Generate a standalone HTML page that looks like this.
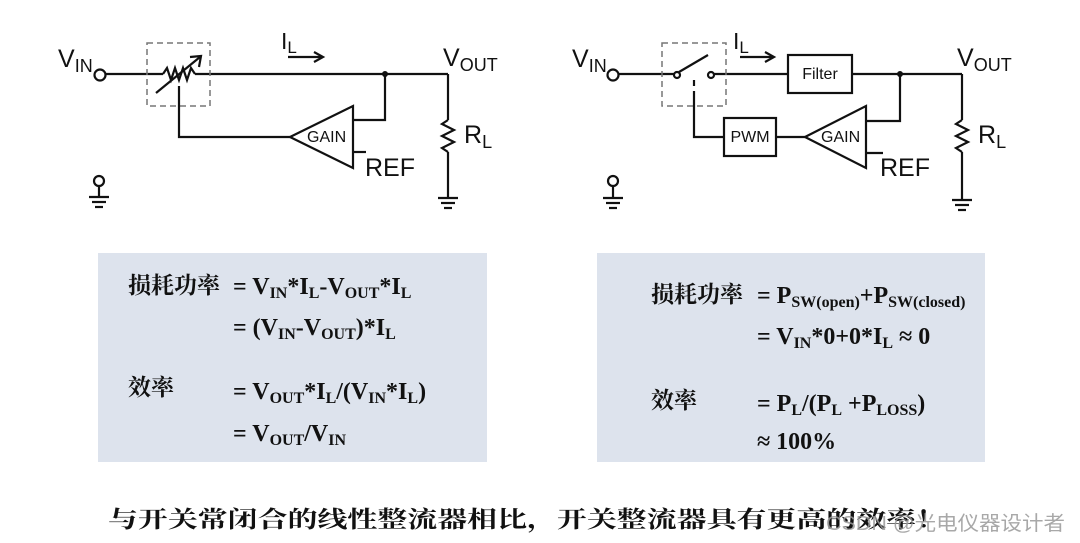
<!DOCTYPE html>
<html><head><meta charset="utf-8"><style>
html,body{margin:0;padding:0;background:#fff;width:1080px;height:543px;overflow:hidden}
svg{display:block}
.s{font-family:"Liberation Sans",sans-serif;fill:#111}
.m{font-family:"Liberation Serif","Noto Serif CJK SC",serif;font-weight:bold;fill:#111;font-size:24px}
.c{font-family:"Liberation Serif","Noto Serif CJK SC",serif;fill:#111;font-size:23px;font-weight:bold}
</style></head><body>
<svg width="1080" height="543" viewBox="0 0 1080 543" xmlns="http://www.w3.org/2000/svg">
<g stroke="#111" stroke-width="2.2" fill="none">
<circle cx="100" cy="75" r="5.5" fill="#fff"/>
<line x1="106" y1="74" x2="163" y2="74"/>
<polyline points="163,74 167,68 171,80 175,68 179,80 183,68 187,80 191,68 195,74"/>
<line x1="195" y1="74" x2="448" y2="74"/>
<line x1="156" y1="93" x2="200" y2="57"/>
<polyline points="190,57 201,56 199,67"/>
<rect x="147" y="43" width="63" height="63" stroke="#777" stroke-width="1.5" stroke-dasharray="6,4"/>
<polyline points="179,86 179,137 290,137"/>
<polygon points="290,137 353,106 353,168"/>
<polyline points="353,120 385,120 385,74"/>
<line x1="353" y1="152" x2="366" y2="152"/>
<line x1="288" y1="57" x2="322" y2="57"/>
<polyline points="314,52 323,57 314,62"/>
<line x1="448" y1="74" x2="448" y2="120"/>
<polyline points="448,120 442,124 454,130 442,136 454,142 442,148 448,152"/>
<line x1="448" y1="152" x2="448" y2="198"/>
<line x1="438" y1="198" x2="458" y2="198"/><line x1="441" y1="203" x2="455" y2="203"/><line x1="444" y1="208" x2="452" y2="208"/>
<circle cx="99" cy="181" r="5" fill="#fff"/>
<line x1="99" y1="186" x2="99" y2="197"/>
<line x1="89" y1="197" x2="109" y2="197"/><line x1="92" y1="202" x2="106" y2="202"/><line x1="95" y1="207" x2="103" y2="207"/>
<circle cx="613" cy="75" r="5.5" fill="#fff"/>
<line x1="619" y1="74" x2="674" y2="74"/>
<circle cx="677" cy="75" r="3" fill="#fff"/>
<line x1="679" y1="72" x2="708" y2="55"/>
<circle cx="711" cy="75" r="3" fill="#fff"/>
<line x1="714" y1="74" x2="788" y2="74"/>
<rect x="788" y="55" width="64" height="38" fill="#fff"/>
<line x1="852" y1="74" x2="962" y2="74"/>
<line x1="694" y1="80" x2="694" y2="86" />
<rect x="662" y="43" width="64" height="63" stroke="#777" stroke-width="1.5" stroke-dasharray="6,4"/>
<polyline points="694,91 694,137 724,137"/>
<rect x="724" y="118" width="52" height="38" fill="#fff"/>
<line x1="776" y1="137" x2="805" y2="137"/>
<polygon points="805,137 866,106 866,168"/>
<polyline points="866,121 900,121 900,74"/>
<line x1="866" y1="153" x2="883" y2="153"/>
<line x1="740" y1="57" x2="773" y2="57"/>
<polyline points="765,52 774,57 765,62"/>
<line x1="962" y1="74" x2="962" y2="120"/>
<polyline points="962,120 956,124 968,130 956,136 968,142 956,148 962,152"/>
<line x1="962" y1="152" x2="962" y2="200"/>
<line x1="952" y1="200" x2="972" y2="200"/><line x1="955" y1="205" x2="969" y2="205"/><line x1="958" y1="210" x2="966" y2="210"/>
<circle cx="613" cy="181" r="5" fill="#fff"/>
<line x1="613" y1="186" x2="613" y2="198"/>
<line x1="603" y1="198" x2="623" y2="198"/><line x1="606" y1="203" x2="620" y2="203"/><line x1="609" y1="208" x2="617" y2="208"/>
</g>
<circle cx="385" cy="74" r="3" fill="#111"/>
<circle cx="900" cy="74" r="3" fill="#111"/>
<text class="s" x="58" y="67" font-size="25">V<tspan font-size="18" dy="5">IN</tspan></text>
<text class="s" x="281" y="49" font-size="23">I<tspan font-size="17" dy="4">L</tspan></text>
<text class="s" x="443" y="66" font-size="25">V<tspan font-size="18" dy="5">OUT</tspan></text>
<text class="s" x="464" y="143" font-size="25">R<tspan font-size="18" dy="5">L</tspan></text>
<text class="s" x="307" y="142" font-size="16">GAIN</text>
<text class="s" x="365" y="176" font-size="25">REF</text>
<text class="s" x="572" y="67" font-size="25">V<tspan font-size="18" dy="5">IN</tspan></text>
<text class="s" x="733" y="49" font-size="23">I<tspan font-size="17" dy="4">L</tspan></text>
<text class="s" x="957" y="66" font-size="25">V<tspan font-size="18" dy="5">OUT</tspan></text>
<text class="s" x="978" y="143" font-size="25">R<tspan font-size="18" dy="5">L</tspan></text>
<text class="s" x="820" y="79" font-size="16" text-anchor="middle">Filter</text>
<text class="s" x="750" y="142" font-size="16" text-anchor="middle">PWM</text>
<text class="s" x="821" y="142" font-size="16">GAIN</text>
<text class="s" x="880" y="176" font-size="25">REF</text>
<rect x="98" y="253" width="389" height="209" fill="#dde3ed"/>
<rect x="597" y="253" width="388" height="209" fill="#dde3ed"/>
<text class="c" x="128" y="293">损耗功率</text>
<text class="m" x="233" y="294">=  V<tspan font-size="16" dy="4">IN</tspan><tspan dy="-4">*I</tspan><tspan font-size="16" dy="4">L</tspan><tspan dy="-4">-V</tspan><tspan font-size="16" dy="4">OUT</tspan><tspan dy="-4">*I</tspan><tspan font-size="16" dy="4">L</tspan></text>
<text class="m" x="233" y="335">= (V<tspan font-size="16" dy="4">IN</tspan><tspan dy="-4">-V</tspan><tspan font-size="16" dy="4">OUT</tspan><tspan dy="-4">)*I</tspan><tspan font-size="16" dy="4">L</tspan></text>
<text class="c" x="128" y="395">效率</text>
<text class="m" x="233" y="399">= V<tspan font-size="16" dy="4">OUT</tspan><tspan dy="-4">*I</tspan><tspan font-size="16" dy="4">L</tspan><tspan dy="-4">/(V</tspan><tspan font-size="16" dy="4">IN</tspan><tspan dy="-4">*I</tspan><tspan font-size="16" dy="4">L</tspan><tspan dy="-4">)</tspan></text>
<text class="m" x="233" y="441">= V<tspan font-size="16" dy="4">OUT</tspan><tspan dy="-4">/V</tspan><tspan font-size="16" dy="4">IN</tspan></text>
<text class="c" x="651" y="302">损耗功率</text>
<text class="m" x="757" y="303">=  P<tspan font-size="16" dy="4">SW(open)</tspan><tspan dy="-4">+P</tspan><tspan font-size="16" dy="4">SW(closed)</tspan></text>
<text class="m" x="757" y="344">= V<tspan font-size="16" dy="4">IN</tspan><tspan dy="-4">*0+0*I</tspan><tspan font-size="16" dy="4">L</tspan><tspan dy="-4"> ≈ 0</tspan></text>
<text class="c" x="651" y="408">效率</text>
<text class="m" x="757" y="411">= P<tspan font-size="16" dy="4">L</tspan><tspan dy="-4">/(P</tspan><tspan font-size="16" dy="4">L</tspan><tspan dy="-4"> +P</tspan><tspan font-size="16" dy="4">LOSS</tspan><tspan dy="-4">)</tspan></text>
<text class="m" x="757" y="449">≈ 100%</text>
<text class="c" x="108" y="527" font-size="28" textLength="838" lengthAdjust="spacingAndGlyphs">与开关常闭合的线性整流器相比，开关整流器具有更高的效率！</text>
<text x="826" y="530" font-size="20" fill="#999" fill-opacity="0.85" font-family="'Liberation Sans','Noto Sans CJK SC',sans-serif" textLength="239" lengthAdjust="spacingAndGlyphs">CSDN @光电仪器设计者</text>
</svg>
</body></html>
